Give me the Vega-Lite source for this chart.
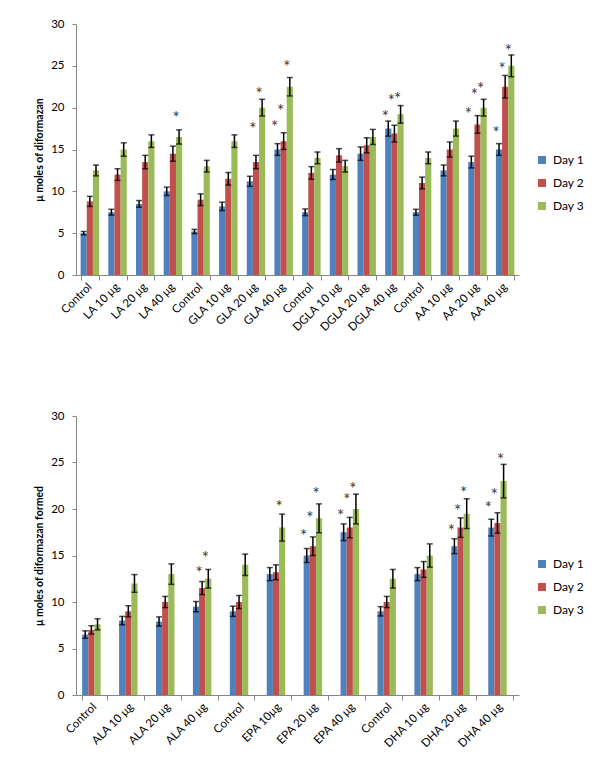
{
  "$schema": "https://vega.github.io/schema/vega-lite/v6.json",
  "background": "white",
  "padding": {"left": 34, "top": 18, "right": 5, "bottom": 5},
  "config": {
    "font": "Lato",
    "view": {"stroke": null},
    "axis": {"domainColor": "#868686", "tickColor": "#868686", "labelColor": "#000000", "labelFont": "Lato", "titleFont": "Lato", "grid": false},
    "legend": {"orient": "none", "title": null, "symbolType": "square", "symbolSize": 64, "symbolStrokeWidth": 0, "labelFontSize": 12, "labelFont": "Lato", "labelColor": "#000000", "rowPadding": 11, "padding": 0, "labelOffset": 5}
  },
  "datasets": {
    "top": [
      {"group": "Control#LA", "day": "Day 1", "value": 5.0, "lo": 4.8, "hi": 5.2},
      {"group": "Control#LA", "day": "Day 2", "value": 8.8, "lo": 8.2, "hi": 9.4},
      {"group": "Control#LA", "day": "Day 3", "value": 12.5, "lo": 11.85, "hi": 13.15},
      {"group": "LA 10 μg", "day": "Day 1", "value": 7.5, "lo": 7.15, "hi": 7.85},
      {"group": "LA 10 μg", "day": "Day 2", "value": 12.0, "lo": 11.3, "hi": 12.7},
      {"group": "LA 10 μg", "day": "Day 3", "value": 15.0, "lo": 14.2, "hi": 15.8},
      {"group": "LA 20 μg", "day": "Day 1", "value": 8.5, "lo": 8.1, "hi": 8.9},
      {"group": "LA 20 μg", "day": "Day 2", "value": 13.5, "lo": 12.7, "hi": 14.3},
      {"group": "LA 20 μg", "day": "Day 3", "value": 16.0, "lo": 15.25, "hi": 16.75},
      {"group": "LA 40 μg", "day": "Day 1", "value": 10.0, "lo": 9.5, "hi": 10.5},
      {"group": "LA 40 μg", "day": "Day 2", "value": 14.5, "lo": 13.6, "hi": 15.4},
      {"group": "LA 40 μg", "day": "Day 3", "value": 16.5, "lo": 15.65, "hi": 17.35},
      {"group": "Control#GLA", "day": "Day 1", "value": 5.2, "lo": 4.95, "hi": 5.45},
      {"group": "Control#GLA", "day": "Day 2", "value": 9.0, "lo": 8.3, "hi": 9.7},
      {"group": "Control#GLA", "day": "Day 3", "value": 13.0, "lo": 12.3, "hi": 13.7},
      {"group": "GLA 10 μg", "day": "Day 1", "value": 8.2, "lo": 7.7, "hi": 8.7},
      {"group": "GLA 10 μg", "day": "Day 2", "value": 11.5, "lo": 10.75, "hi": 12.25},
      {"group": "GLA 10 μg", "day": "Day 3", "value": 16.0, "lo": 15.25, "hi": 16.75},
      {"group": "GLA 20 μg", "day": "Day 1", "value": 11.2, "lo": 10.6, "hi": 11.8},
      {"group": "GLA 20 μg", "day": "Day 2", "value": 13.5, "lo": 12.7, "hi": 14.3},
      {"group": "GLA 20 μg", "day": "Day 3", "value": 20.0, "lo": 19.0, "hi": 21.0},
      {"group": "GLA 40 μg", "day": "Day 1", "value": 15.0, "lo": 14.3, "hi": 15.7},
      {"group": "GLA 40 μg", "day": "Day 2", "value": 16.0, "lo": 15.0, "hi": 17.0},
      {"group": "GLA 40 μg", "day": "Day 3", "value": 22.5, "lo": 21.4, "hi": 23.6},
      {"group": "Control#DGLA", "day": "Day 1", "value": 7.5, "lo": 7.1, "hi": 7.9},
      {"group": "Control#DGLA", "day": "Day 2", "value": 12.2, "lo": 11.45, "hi": 12.95},
      {"group": "Control#DGLA", "day": "Day 3", "value": 14.0, "lo": 13.3, "hi": 14.7},
      {"group": "DGLA 10 μg", "day": "Day 1", "value": 12.0, "lo": 11.4, "hi": 12.6},
      {"group": "DGLA 10 μg", "day": "Day 2", "value": 14.3, "lo": 13.5, "hi": 15.1},
      {"group": "DGLA 10 μg", "day": "Day 3", "value": 13.0, "lo": 12.3, "hi": 13.7},
      {"group": "DGLA 20 μg", "day": "Day 1", "value": 14.5, "lo": 13.7, "hi": 15.3},
      {"group": "DGLA 20 μg", "day": "Day 2", "value": 15.5, "lo": 14.6, "hi": 16.4},
      {"group": "DGLA 20 μg", "day": "Day 3", "value": 16.5, "lo": 15.6, "hi": 17.4},
      {"group": "DGLA 40 μg", "day": "Day 1", "value": 17.5, "lo": 16.6, "hi": 18.4},
      {"group": "DGLA 40 μg", "day": "Day 2", "value": 16.9, "lo": 15.9, "hi": 17.9},
      {"group": "DGLA 40 μg", "day": "Day 3", "value": 19.2, "lo": 18.15, "hi": 20.25},
      {"group": "Control#AA", "day": "Day 1", "value": 7.5, "lo": 7.15, "hi": 7.85},
      {"group": "Control#AA", "day": "Day 2", "value": 11.0, "lo": 10.3, "hi": 11.7},
      {"group": "Control#AA", "day": "Day 3", "value": 14.0, "lo": 13.3, "hi": 14.7},
      {"group": "AA 10 μg", "day": "Day 1", "value": 12.5, "lo": 11.85, "hi": 13.15},
      {"group": "AA 10 μg", "day": "Day 2", "value": 15.0, "lo": 14.1, "hi": 15.9},
      {"group": "AA 10 μg", "day": "Day 3", "value": 17.5, "lo": 16.6, "hi": 18.4},
      {"group": "AA 20 μg", "day": "Day 1", "value": 13.5, "lo": 12.8, "hi": 14.2},
      {"group": "AA 20 μg", "day": "Day 2", "value": 18.0, "lo": 16.95, "hi": 19.05},
      {"group": "AA 20 μg", "day": "Day 3", "value": 20.0, "lo": 19.0, "hi": 21.0},
      {"group": "AA 40 μg", "day": "Day 1", "value": 15.0, "lo": 14.3, "hi": 15.7},
      {"group": "AA 40 μg", "day": "Day 2", "value": 22.5, "lo": 21.15, "hi": 23.85},
      {"group": "AA 40 μg", "day": "Day 3", "value": 25.0, "lo": 23.7, "hi": 26.3}
    ],
    "topStars": [
      {"group": "LA 40 μg", "day": "Day 3", "y": 19.3},
      {"group": "GLA 20 μg", "day": "Day 2", "y": 17.9},
      {"group": "GLA 20 μg", "day": "Day 3", "y": 22.1},
      {"group": "GLA 40 μg", "day": "Day 1", "y": 18.2},
      {"group": "GLA 40 μg", "day": "Day 2", "y": 20.1},
      {"group": "GLA 40 μg", "day": "Day 3", "y": 25.3},
      {"group": "DGLA 40 μg", "day": "Day 1", "y": 19.4},
      {"group": "DGLA 40 μg", "day": "Day 2", "y": 21.3},
      {"group": "DGLA 40 μg", "day": "Day 3", "y": 21.5},
      {"group": "AA 20 μg", "day": "Day 1", "y": 19.7},
      {"group": "AA 20 μg", "day": "Day 2", "y": 22.0},
      {"group": "AA 20 μg", "day": "Day 3", "y": 22.7},
      {"group": "AA 40 μg", "day": "Day 1", "y": 17.45},
      {"group": "AA 40 μg", "day": "Day 2", "y": 25.1},
      {"group": "AA 40 μg", "day": "Day 3", "y": 27.3}
    ],
    "bottom": [
      {"group": "Control#ALA", "day": "Day 1", "value": 6.5, "lo": 6.1, "hi": 6.9},
      {"group": "Control#ALA", "day": "Day 2", "value": 7.0, "lo": 6.55, "hi": 7.45},
      {"group": "Control#ALA", "day": "Day 3", "value": 7.6, "lo": 7.0, "hi": 8.2},
      {"group": "ALA 10 μg", "day": "Day 1", "value": 8.0, "lo": 7.55, "hi": 8.45},
      {"group": "ALA 10 μg", "day": "Day 2", "value": 9.0, "lo": 8.4, "hi": 9.6},
      {"group": "ALA 10 μg", "day": "Day 3", "value": 12.0, "lo": 11.05, "hi": 12.95},
      {"group": "ALA 20 μg", "day": "Day 1", "value": 7.9, "lo": 7.4, "hi": 8.4},
      {"group": "ALA 20 μg", "day": "Day 2", "value": 10.0, "lo": 9.4, "hi": 10.6},
      {"group": "ALA 20 μg", "day": "Day 3", "value": 13.0, "lo": 11.9, "hi": 14.1},
      {"group": "ALA 40 μg", "day": "Day 1", "value": 9.5, "lo": 8.95, "hi": 10.05},
      {"group": "ALA 40 μg", "day": "Day 2", "value": 11.5, "lo": 10.8, "hi": 12.2},
      {"group": "ALA 40 μg", "day": "Day 3", "value": 12.5, "lo": 11.5, "hi": 13.5},
      {"group": "Control#EPA", "day": "Day 1", "value": 9.0, "lo": 8.45, "hi": 9.55},
      {"group": "Control#EPA", "day": "Day 2", "value": 10.0, "lo": 9.3, "hi": 10.7},
      {"group": "Control#EPA", "day": "Day 3", "value": 14.0, "lo": 12.85, "hi": 15.15},
      {"group": "EPA 10μg", "day": "Day 1", "value": 13.0, "lo": 12.3, "hi": 13.7},
      {"group": "EPA 10μg", "day": "Day 2", "value": 13.2, "lo": 12.4, "hi": 14.0},
      {"group": "EPA 10μg", "day": "Day 3", "value": 18.0, "lo": 16.55, "hi": 19.45},
      {"group": "EPA 20 μg", "day": "Day 1", "value": 15.0, "lo": 14.25, "hi": 15.75},
      {"group": "EPA 20 μg", "day": "Day 2", "value": 16.0, "lo": 15.0, "hi": 17.0},
      {"group": "EPA 20 μg", "day": "Day 3", "value": 19.0, "lo": 17.45, "hi": 20.55},
      {"group": "EPA 40 μg", "day": "Day 1", "value": 17.5, "lo": 16.6, "hi": 18.4},
      {"group": "EPA 40 μg", "day": "Day 2", "value": 18.0, "lo": 16.9, "hi": 19.1},
      {"group": "EPA 40 μg", "day": "Day 3", "value": 20.0, "lo": 18.4, "hi": 21.6},
      {"group": "Control#DHA", "day": "Day 1", "value": 9.0, "lo": 8.5, "hi": 9.5},
      {"group": "Control#DHA", "day": "Day 2", "value": 10.0, "lo": 9.4, "hi": 10.6},
      {"group": "Control#DHA", "day": "Day 3", "value": 12.5, "lo": 11.5, "hi": 13.5},
      {"group": "DHA 10 μg", "day": "Day 1", "value": 13.0, "lo": 12.3, "hi": 13.7},
      {"group": "DHA 10 μg", "day": "Day 2", "value": 13.5, "lo": 12.65, "hi": 14.35},
      {"group": "DHA 10 μg", "day": "Day 3", "value": 15.0, "lo": 13.75, "hi": 16.25},
      {"group": "DHA 20 μg", "day": "Day 1", "value": 16.0, "lo": 15.2, "hi": 16.8},
      {"group": "DHA 20 μg", "day": "Day 2", "value": 18.0, "lo": 16.95, "hi": 19.05},
      {"group": "DHA 20 μg", "day": "Day 3", "value": 19.5, "lo": 17.9, "hi": 21.1},
      {"group": "DHA 40 μg", "day": "Day 1", "value": 18.0, "lo": 17.1, "hi": 18.9},
      {"group": "DHA 40 μg", "day": "Day 2", "value": 18.5, "lo": 17.4, "hi": 19.6},
      {"group": "DHA 40 μg", "day": "Day 3", "value": 23.0, "lo": 21.2, "hi": 24.8}
    ],
    "bottomStars": [
      {"group": "ALA 40 μg", "day": "Day 2", "y": 13.5},
      {"group": "ALA 40 μg", "day": "Day 3", "y": 15.2},
      {"group": "EPA 10μg", "day": "Day 3", "y": 20.6},
      {"group": "EPA 20 μg", "day": "Day 1", "y": 17.5},
      {"group": "EPA 20 μg", "day": "Day 2", "y": 19.5},
      {"group": "EPA 20 μg", "day": "Day 3", "y": 22.0},
      {"group": "EPA 40 μg", "day": "Day 1", "y": 19.7},
      {"group": "EPA 40 μg", "day": "Day 2", "y": 21.4},
      {"group": "EPA 40 μg", "day": "Day 3", "y": 22.6},
      {"group": "DHA 20 μg", "day": "Day 1", "y": 18.05},
      {"group": "DHA 20 μg", "day": "Day 2", "y": 20.2},
      {"group": "DHA 20 μg", "day": "Day 3", "y": 22.1},
      {"group": "DHA 40 μg", "day": "Day 1", "y": 20.5},
      {"group": "DHA 40 μg", "day": "Day 2", "y": 21.9},
      {"group": "DHA 40 μg", "day": "Day 3", "y": 25.7}
    ]
  },
  "spacing": 141,
  "bounds": "flush",
  "resolve": {"scale": {"color": "independent", "x": "independent"}, "legend": {"color": "independent"}},
  "vconcat": [
    {
      "width": 443,
      "height": 251,
      "encoding": {
        "x": {"field": "group", "type": "nominal", "scale": {"domain": ["Control#LA", "LA 10 μg", "LA 20 μg", "LA 40 μg", "Control#GLA", "GLA 10 μg", "GLA 20 μg", "GLA 40 μg", "Control#DGLA", "DGLA 10 μg", "DGLA 20 μg", "DGLA 40 μg", "Control#AA", "AA 10 μg", "AA 20 μg", "AA 40 μg"], "paddingInner": 0.3333, "paddingOuter": 0.1667},
          "axis": {"title": null, "labelAngle": -45, "labelAlign": "right", "labelBaseline": "middle", "labelFontSize": 11.5, "tickBand": "extent", "tickSize": 5, "labelPadding": 5, "labelExpr": "split(datum.label, '#')[0]"}},
        "xOffset": {"field": "day", "type": "nominal", "scale": {"domain": ["Day 1", "Day 2", "Day 3"], "paddingInner": 0, "paddingOuter": 0}}
      },
      "layer": [
        {
          "data": {"name": "top"},
          "mark": {"type": "bar"},
          "encoding": {
            "y": {"field": "value", "type": "quantitative", "scale": {"domain": [0, 30], "nice": false},
              "axis": {"title": "μ moles of diformazan", "titleFontWeight": "bold", "titleFontSize": 10.5, "titleColor": "#000000", "titlePadding": 6, "values": [0, 5, 10, 15, 20, 25, 30], "tickSize": 4, "labelPadding": 8, "labelFontSize": 11.5}},
            "color": {"field": "day", "type": "nominal", "scale": {"domain": ["Day 1", "Day 2", "Day 3"], "range": ["#4F81BD", "#C0504D", "#9BBB59"]},
              "legend": {"legendX": 460, "legendY": 130}}
          }
        },
        {
          "data": {"name": "top"},
          "mark": {"type": "rule", "color": "#000000", "strokeWidth": 1.5},
          "encoding": {"y": {"field": "lo", "type": "quantitative"}, "y2": {"field": "hi"}}
        },
        {
          "data": {"name": "top"},
          "mark": {"type": "tick", "orient": "horizontal", "color": "#000000", "thickness": 1.5, "size": 6},
          "encoding": {"y": {"field": "lo", "type": "quantitative"}}
        },
        {
          "data": {"name": "top"},
          "mark": {"type": "tick", "orient": "horizontal", "color": "#000000", "thickness": 1.5, "size": 6},
          "encoding": {"y": {"field": "hi", "type": "quantitative"}}
        },
        {
          "data": {"name": "topStars"},
          "mark": {"type": "text", "text": "*", "fontSize": 17, "color": "#3a3a3a", "baseline": "alphabetic", "dy": 10, "dx": -3},
          "encoding": {"y": {"field": "y", "type": "quantitative"}}
        }
      ]
    },
    {
      "width": 443,
      "height": 279,
      "encoding": {
        "x": {"field": "group", "type": "nominal", "scale": {"domain": ["Control#ALA", "ALA 10 μg", "ALA 20 μg", "ALA 40 μg", "Control#EPA", "EPA 10μg", "EPA 20 μg", "EPA 40 μg", "Control#DHA", "DHA 10 μg", "DHA 20 μg", "DHA 40 μg"], "paddingInner": 0.3333, "paddingOuter": 0.1667},
          "axis": {"title": null, "labelAngle": -45, "labelAlign": "right", "labelBaseline": "middle", "labelFontSize": 11.5, "tickBand": "extent", "tickSize": 5, "labelPadding": 5, "labelExpr": "split(datum.label, '#')[0]"}},
        "xOffset": {"field": "day", "type": "nominal", "scale": {"domain": ["Day 1", "Day 2", "Day 3"], "paddingInner": 0, "paddingOuter": 0}}
      },
      "layer": [
        {
          "data": {"name": "bottom"},
          "mark": {"type": "bar"},
          "encoding": {
            "y": {"field": "value", "type": "quantitative", "scale": {"domain": [0, 30], "nice": false},
              "axis": {"title": "μ moles of diformazan formed", "titleFontWeight": "bold", "titleFontSize": 10.5, "titleColor": "#000000", "titlePadding": 6, "values": [0, 5, 10, 15, 20, 25, 30], "tickSize": 4, "labelPadding": 8, "labelFontSize": 11.5}},
            "color": {"field": "day", "type": "nominal", "scale": {"domain": ["Day 1", "Day 2", "Day 3"], "range": ["#4F81BD", "#C0504D", "#9BBB59"]},
              "legend": {"legendX": 460, "legendY": 142}}
          }
        },
        {
          "data": {"name": "bottom"},
          "mark": {"type": "rule", "color": "#000000", "strokeWidth": 1.5},
          "encoding": {"y": {"field": "lo", "type": "quantitative"}, "y2": {"field": "hi"}}
        },
        {
          "data": {"name": "bottom"},
          "mark": {"type": "tick", "orient": "horizontal", "color": "#000000", "thickness": 1.5, "size": 6},
          "encoding": {"y": {"field": "lo", "type": "quantitative"}}
        },
        {
          "data": {"name": "bottom"},
          "mark": {"type": "tick", "orient": "horizontal", "color": "#000000", "thickness": 1.5, "size": 6},
          "encoding": {"y": {"field": "hi", "type": "quantitative"}}
        },
        {
          "data": {"name": "bottomStars"},
          "mark": {"type": "text", "text": "*", "fontSize": 17, "color": "#3a3a3a", "baseline": "alphabetic", "dy": 10, "dx": -3},
          "encoding": {"y": {"field": "y", "type": "quantitative"}}
        }
      ]
    }
  ]
}
